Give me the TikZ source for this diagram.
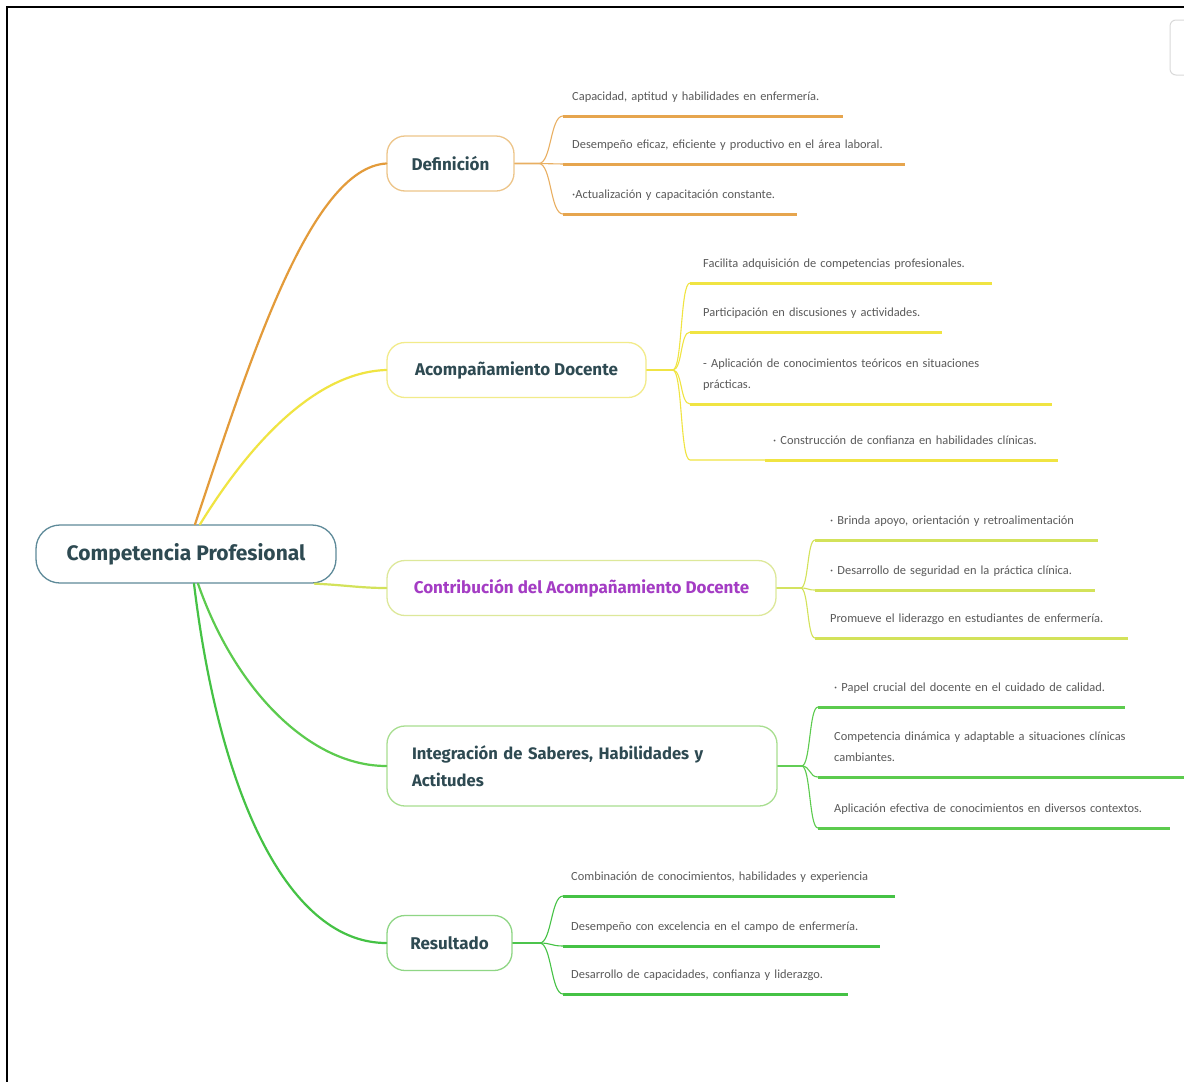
\documentclass[tikz,border=0pt]{standalone}
\usepackage{fontspec}
\setmainfont{Carlito}
\newfontfamily\headfont{Fira Sans}
\usetikzlibrary{positioning, calc}

\definecolor{rootline}{HTML}{5E8A99}
\definecolor{headtext}{HTML}{2E4A52}
\definecolor{leaftext}{HTML}{5A5A5A}
\definecolor{purpletext}{HTML}{A43CC4}
\definecolor{orangeS}{HTML}{E39B3A}
\definecolor{orangeB}{HTML}{EDC58A}
\definecolor{yellowS}{HTML}{F0E442}
\definecolor{yellowB}{HTML}{F2EB8A}
\definecolor{limeS}{HTML}{D3E25A}
\definecolor{limeB}{HTML}{DDE89A}
\definecolor{greenS}{HTML}{5CCB4E}
\definecolor{greenB}{HTML}{A8DE90}
\definecolor{dgreenS}{HTML}{45C245}
\definecolor{dgreenB}{HTML}{8FD685}

\begin{document}
\begin{tikzpicture}[
  x=1pt, y=-1pt,
  every node/.style={font=\fontsize{12.4}{21}\selectfont, text=leaftext},
  root/.style={draw=rootline, line width=1.3pt, rounded corners=24pt,
    minimum width=300pt, minimum height=58pt,
    font=\headfont\bfseries\fontsize{21}{25}\selectfont, text=headtext},
  head/.style={draw=#1, line width=1.3pt, rounded corners=18pt, minimum height=55pt,
    font=\headfont\bfseries\fontsize{17}{27}\selectfont, text=headtext},
  leaf/.style={anchor=south west, inner ysep=12pt, text height=8pt, text depth=3pt,
    align=left, text width=#1},
  twoline/.style={text depth=24pt},
  stem/.style={line width=2.2pt, line cap=round},
  twig/.style={line width=1.1pt},
  ul/.style={line width=3pt}
]
\fill[white] (0,0) rectangle (1184,1082);
\useasboundingbox (0,0) rectangle (1184,1082);
\draw[line width=2pt] (7,1082) -- (7,7) -- (1184,7);
\draw[black!15, line width=1pt, rounded corners=6pt] (1200,20) -- (1170,20) -- (1170,75) -- (1200,75);

% Root
\node[root] (cp) at (186,554) {Competencia Profesional};

% Main topics
\node[head=orangeB, minimum width=127pt] (def) at (450.5,163.5) {Definición};
\node[head=yellowB, minimum width=259pt] (aco) at (516.5,370) {Acompañamiento Docente};
\node[head=limeB, minimum width=389pt, text=purpletext] (con) at (581.5,588) {Contribución del Acompañamiento Docente};
\node[head=greenB, minimum width=390pt, minimum height=80pt, text width=340pt, align=left,
  font=\headfont\bfseries\fontsize{16.6}{27}\selectfont] (int) at (582,766)
  {Integración de Saberes, Habilidades y\\Actitudes};
\node[head=dgreenB, minimum width=125pt] (res) at (449.5,943) {Resultado};

\draw[stem, orangeS] ([xshift=9pt]cp.north) .. controls (250,360) and (310,168) .. (def.west);
\draw[stem, yellowS] ([xshift=14pt]cp.north) .. controls (255,435) and (320,372) .. (aco.west);
\draw[stem, limeS] ([xshift=-22pt]cp.south east) .. controls (345,585) and (360,588) .. (con.west);
\draw[stem, greenS] ([xshift=12pt]cp.south) .. controls (235,690) and (310,766) .. (int.west);
\draw[stem, dgreenS] ([xshift=8pt]cp.south) .. controls (220,800) and (290,943) .. (res.west);

% Definicion leaves
\begin{scope}[inner xsep=9pt]
\node[leaf=262pt] (d1) at (563,116) {Capacidad, aptitud y habilidades en enfermería.};
\node[leaf=324pt] (d2) at (563,164) {Desempeño eficaz, eficiente y productivo en el área laboral.};
\node[leaf=216pt] (d3) at (563,214) {·Actualización y capacitación constante.};
\end{scope}
\foreach \n in {d1,d2,d3}{
  \draw[twig, orangeS!80] (def.east) -- ++(24,0) .. controls +(13,0) and +(-13,0) .. (\n.south west);
  \draw[ul, orangeS!90] (\n.south west) -- (\n.south east);
}

% Acompanamiento leaves
\begin{scope}[inner xsep=13pt]
\node[leaf=276pt] (a1) at (690,283) {Facilita adquisición de competencias profesionales.};
\node[leaf=226pt] (a2) at (690,332) {Participación en discusiones y actividades.};
\node[leaf=336pt, twoline] (a3) at (690,404) {- Aplicación de conocimientos teóricos en situaciones\\prácticas.};
\node[leaf=277pt, inner xsep=8pt] (a4) at (765,460) {· Construcción de confianza en habilidades clínicas.};
\end{scope}
\foreach \n in {a1,a2,a3}{
  \draw[twig, yellowS] (aco.east) -- ++(26,0) .. controls +(10,0) and +(-10,0) .. (\n.south west);
  \draw[ul, yellowS] (\n.south west) -- (\n.south east);
}
\draw[twig, yellowS] (aco.east) -- ++(26,0) .. controls +(10,0) and +(-10,0) .. (690,460) -- (a4.south west);
\draw[ul, yellowS] (a4.south west) -- (a4.south east);

% Contribucion leaves
\begin{scope}[inner xsep=15pt]
\node[leaf=253pt] (c1) at (815,540) {· Brinda apoyo, orientación y retroalimentación};
\node[leaf=250pt] (c2) at (815,590) {· Desarrollo de seguridad en la práctica clínica.};
\node[leaf=283pt] (c3) at (815,638) {Promueve el liderazgo en estudiantes de enfermería.};
\end{scope}
\foreach \n in {c1,c2,c3}{
  \draw[twig, limeS] (con.east) -- ++(24,0) .. controls +(8,0) and +(-8,0) .. (\n.south west);
  \draw[ul, limeS] (\n.south west) -- (\n.south east);
}

% Integracion leaves
\begin{scope}[inner xsep=16pt]
\node[leaf=275pt] (i1) at (818,707) {· Papel crucial del docente en el cuidado de calidad.};
\node[leaf=334pt, twoline] (i2) at (818,777) {Competencia dinámica y adaptable a situaciones clínicas\\cambiantes.};
\node[leaf=320pt] (i3) at (818,828) {Aplicación efectiva de conocimientos en diversos contextos.};
\end{scope}
\foreach \n in {i1,i2,i3}{
  \draw[twig, greenS] (int.east) -- ++(24,0) .. controls +(9,0) and +(-9,0) .. (\n.south west);
  \draw[ul, greenS] (\n.south west) -- (\n.south east);
}

% Resultado leaves
\begin{scope}[inner xsep=8pt]
\node[leaf=316pt] (r1) at (563,896) {Combinación de conocimientos, habilidades y experiencia};
\node[leaf=301pt] (r2) at (563,946) {Desempeño con excelencia en el campo de enfermería.};
\node[leaf=269pt] (r3) at (563,994) {Desarrollo de capacidades, confianza y liderazgo.};
\end{scope}
\foreach \n in {r1,r2,r3}{
  \draw[twig, dgreenS] (res.east) -- ++(27,0) .. controls +(12,0) and +(-12,0) .. (\n.south west);
  \draw[ul, dgreenS] (\n.south west) -- (\n.south east);
}
\end{tikzpicture}
\end{document}
